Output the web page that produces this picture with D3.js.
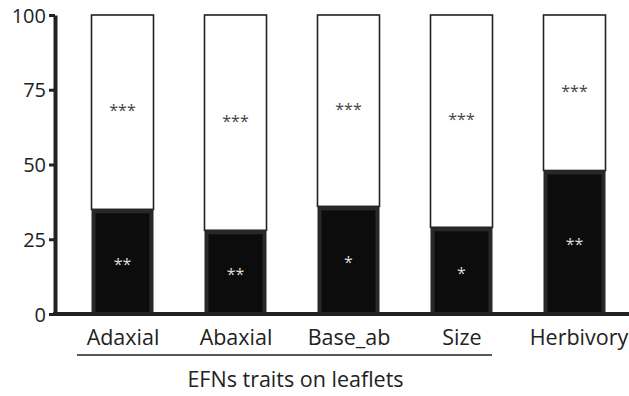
<!DOCTYPE html>
<html><head><meta charset="utf-8">
<script src="https://cdn.jsdelivr.net/npm/d3@7"></script>
<style>body{margin:0;background:#fff}svg{display:block}</style>
</head><body>
<script>
const categories = ["Adaxial","Abaxial","Base_ab","Size","Herbivory"];
const darkValues = [35, 28, 36, 29, 48];
const totalValues = [100, 100, 100, 100, 100];
const upperStars = ["***","***","***","***","***"];
const lowerStars = ["**","**","*","*","**"];
const yTicks = [0, 25, 50, 75, 100];
const groupLabel = "EFNs traits on leaflets";

const W = 629, H = 396;
const svg = d3.select("body").append("svg").attr("width", W).attr("height", H);
const font = "'Open Sans', sans-serif";
const y = d3.scaleLinear().domain([0, 100]).range([314, 15]);
const x = d3.scalePoint().domain(categories).range([122.5, 574.5]);
const bw = 62;

// bars
const g = svg.append("g");
categories.forEach((c, i) => {
  const cx = x(c);
  g.append("rect").attr("x", cx - bw/2).attr("y", y(totalValues[i]))
    .attr("width", bw).attr("height", y(darkValues[i]) - y(totalValues[i]))
    .attr("fill", "#fff").attr("stroke", "#222").attr("stroke-width", 1.6);
  g.append("rect").attr("x", cx - bw/2 + 2).attr("y", y(darkValues[i]) + 2)
    .attr("width", bw - 4).attr("height", y(0) - y(darkValues[i]) - 2)
    .attr("fill", "#0c0c0c").attr("stroke", "#282828").attr("stroke-width", 4);
  const midU = (y(totalValues[i]) + y(darkValues[i])) / 2;
  const midD = (y(darkValues[i]) + y(0)) / 2;
  g.append("text").attr("x", cx).attr("y", midU + 4).attr("text-anchor", "middle")
    .attr("font-family", font).attr("font-size", 16).attr("fill", "#444").text(upperStars[i]);
  g.append("text").attr("x", cx).attr("y", midD + 8).attr("text-anchor", "middle")
    .attr("font-family", font).attr("font-size", 16).attr("fill", "#ddd").text(lowerStars[i]);
});

// y axis
const ya = svg.append("g").attr("transform", "translate(55,0)")
  .call(d3.axisLeft(y).tickValues(yTicks).tickSize(6).tickPadding(3).tickSizeOuter(0));
ya.select(".domain").attr("stroke", "#222").attr("stroke-width", 4);
ya.selectAll(".tick line").attr("stroke", "#222").attr("stroke-width", 3);
ya.selectAll(".tick text").attr("font-family", font).attr("font-size", 20).attr("fill", "#222").attr("dy", "0.36em");

// x baseline
svg.append("line").attr("x1", 53).attr("x2", W).attr("y1", y(0)).attr("y2", y(0))
  .attr("stroke", "#222").attr("stroke-width", 4);

// x labels
const xa = svg.append("g").attr("transform", `translate(0,${y(0)})`)
  .call(d3.axisBottom(x).tickSize(0).tickPadding(0));
xa.select(".domain").remove();
xa.selectAll(".tick text").attr("font-family", font).attr("font-size", 21.5).attr("fill", "#222")
  .attr("dy", 0).attr("y", 31);
xa.selectAll(".tick").filter(d => d === "Herbivory").select("text").attr("x", 4);

// group bracket line and label
const gx0 = 77, gx1 = 492;
svg.append("line").attr("x1", gx0).attr("x2", gx1).attr("y1", 355).attr("y2", 355)
  .attr("stroke", "#222").attr("stroke-width", 1.6);
svg.append("text").attr("x", (gx0 + gx1) / 2 + 11).attr("y", 387).attr("text-anchor", "middle")
  .attr("font-family", font).attr("font-size", 21.5).attr("fill", "#222").text(groupLabel);
</script>
</body></html>
